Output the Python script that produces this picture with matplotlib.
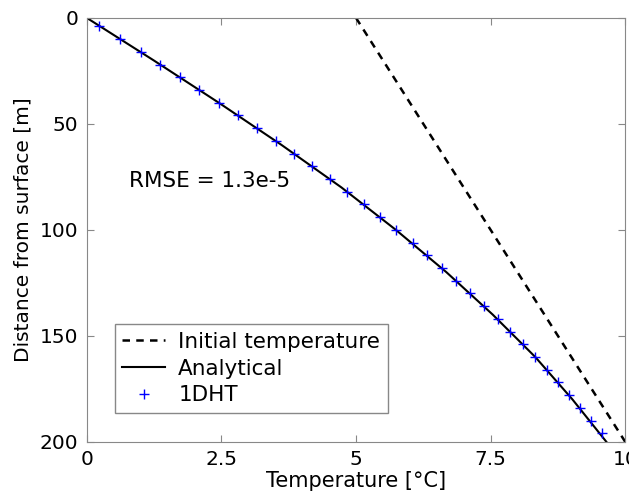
import numpy as np
import matplotlib.pyplot as plt

# initial temperature profile (dashed)
init_depth = [0, 200]
init_temp = [5, 10]

# analytical solution
ana_depth = [0, 20, 40, 60, 80, 100, 120, 140, 160, 180, 200]
ana_temp = [0, 1.24, 2.45, 3.62, 4.73, 5.74, 6.68, 7.54, 8.33, 9.02, 9.65]

# 1DHT model points
mod_depth = [4, 10, 16, 22, 28, 34, 40, 46, 52, 58, 64, 70, 76, 82, 88, 94, 100,
             106, 112, 118, 124, 130, 136, 142, 148, 154, 160, 166, 172, 178,
             184, 190, 196]
mod_temp = [0.23, 0.62, 1.0, 1.36, 1.73, 2.09, 2.45, 2.81, 3.17, 3.51, 3.85, 4.18,
            4.52, 4.83, 5.14, 5.45, 5.74, 6.05, 6.32, 6.60, 6.86, 7.12, 7.38, 7.63,
            7.86, 8.10, 8.33, 8.54, 8.75, 8.96, 9.16, 9.37, 9.57]

fig = plt.figure(figsize=(6.29, 4.97), dpi=100)
ax = fig.add_axes([0.138, 0.111, 0.856, 0.853])

ax.plot(init_temp, init_depth, 'k--', lw=1.8, dashes=(3, 2.5), label='Initial temperature')
ax.plot(ana_temp, ana_depth, 'k-', lw=1.5, label='Analytical')
ax.plot(mod_temp, mod_depth, '+', color='#0000ff', ms=7, mew=1.0, label='1DHT')

ax.set_xlim(0, 10)
ax.set_ylim(200, 0)
ax.set_xticks([0, 2.5, 5, 7.5, 10])
ax.set_xticklabels(['0', '2.5', '5', '7.5', '10'])
ax.set_yticks([0, 50, 100, 150, 200])

ax.tick_params(direction='in', top=True, right=True, labelsize=14.5, length=5,
               color='#888888', pad=6)
for s in ax.spines.values():
    s.set_color('#888888')

ax.set_xlabel('Temperature [°C]', fontsize=15, labelpad=1)
ax.set_ylabel('Distance from surface [m]', fontsize=14.5, labelpad=5)

ax.text(0.78, 77, 'RMSE = 1.3e-5', fontsize=15.5, va='center')

leg = ax.legend(loc='lower left', bbox_to_anchor=(0.052, 0.068), fontsize=15.5,
                fancybox=False, edgecolor='#888888', framealpha=1,
                handlelength=2.0, handletextpad=0.6, borderpad=0.35,
                labelspacing=0.32, borderaxespad=0)
leg.get_frame().set_linewidth(1.0)

fig.savefig('out.png', dpi=100)
